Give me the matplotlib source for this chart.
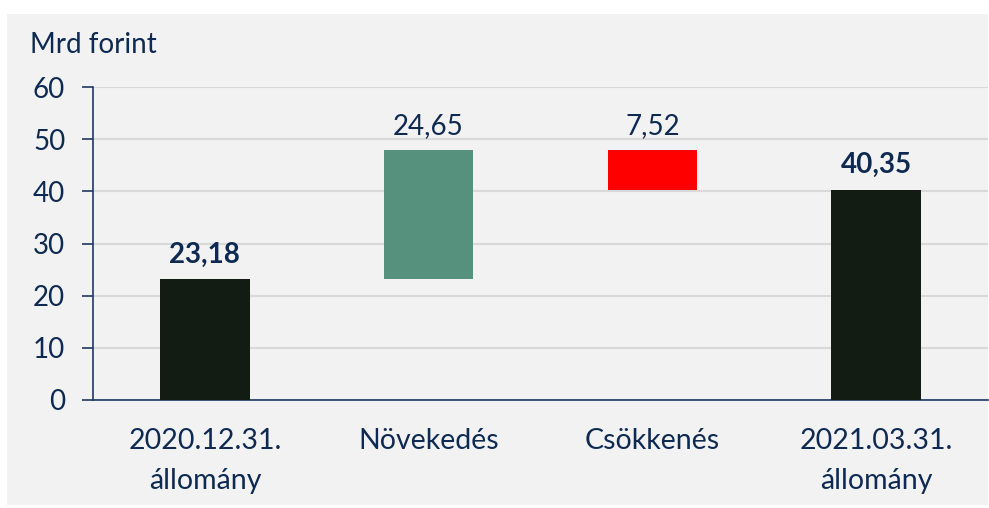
import matplotlib.pyplot as plt
from matplotlib.patches import Rectangle

# waterfall data (Mrd forint)
categories = ["2020.12.31.\nállomány", "Növekedés", "Csökkenés", "2021.03.31.\nállomány"]
start_value = 23.18
increase = 24.65
decrease = 7.52
end_value = 40.35
labels = ["23,18", "24,65", "7,52", "40,35"]

text_col = "#0f2a52"
axis_col = "#1f3864"
plt.rcParams['font.family'] = ['Lato', 'DejaVu Sans']

fig = plt.figure(figsize=(9.89, 5.08), dpi=100)
fig.patch.set_facecolor("white")
fig.patches.append(Rectangle((7 / 989, 3 / 508), 981 / 989, 491 / 508,
                             transform=fig.transFigure, facecolor="#f2f2f2",
                             edgecolor="none", zorder=-10))

ax = fig.add_axes([93 / 989, 1 - 400 / 508, 895 / 989, 313 / 508])
ax.set_facecolor("none")
ax.set_zorder(5)

x = range(len(categories))
bottoms = [0, start_value, start_value + increase - decrease, 0]
heights = [start_value, increase, decrease, end_value]
colors = ["#131c13", "#55917c", "#ff0000", "#131c13"]
ax.bar(x, heights, bottom=bottoms, width=0.4, color=colors, zorder=3)

tops = [b + h for b, h in zip(bottoms, heights)]
weights = ["bold", "normal", "normal", "bold"]
for i in x:
    ax.text(i, tops[i] + 2.2, labels[i], ha="center", va="bottom",
            fontsize=20, color=text_col, fontweight=weights[i])

ax.set_xlim(-0.5, 3.5)
ax.set_ylim(0, 60)
ax.set_yticks(range(0, 61, 10))
ax.set_xticks(list(x))
ax.set_xticklabels(categories, fontsize=20.5, color=text_col, linespacing=1.7)
ax.tick_params(axis="y", labelsize=20, labelcolor=text_col, color=axis_col,
               length=8, width=1.2, pad=12)
ax.tick_params(axis="x", length=0, pad=20)
ax.grid(axis="y", color="#d9d9d9", linewidth=1.5, zorder=0)
ax.set_axisbelow(True)
for s in ["top", "right"]:
    ax.spines[s].set_visible(False)
for s in ["left", "bottom"]:
    ax.spines[s].set_color(axis_col)
    ax.spines[s].set_linewidth(1.2)

fig.text(30 / 989, 1 - 45 / 508, "Mrd forint", fontsize=20, color=text_col,
         va="center", ha="left")

fig.savefig("out.png", dpi=100, facecolor=fig.get_facecolor())
